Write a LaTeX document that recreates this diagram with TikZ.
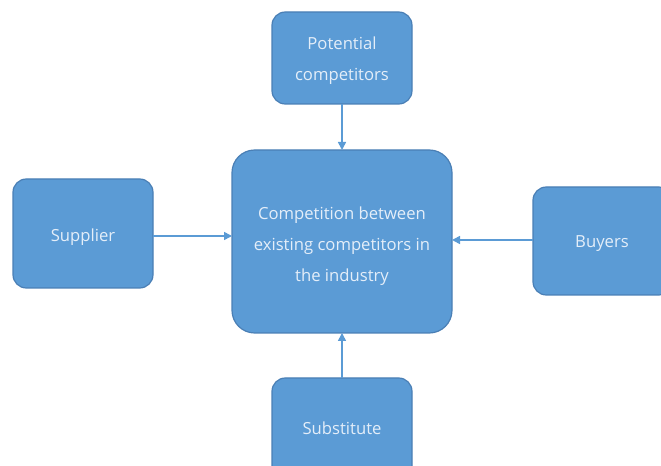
\documentclass[tikz,border=0pt]{standalone}
\usepackage{fontspec}
\setmainfont{Open Sans}
\usetikzlibrary{arrows.meta}
\definecolor{boxfill}{HTML}{5B9BD5}
\definecolor{boxline}{HTML}{4A7FB5}
\definecolor{boxtext}{HTML}{E4EEF9}
\begin{document}
\begin{tikzpicture}[x=0.75pt,y=-0.75pt,
  force/.style={draw=boxline, line width=0.9pt, fill=boxfill, rounded corners=10pt},
  label/.style={text=boxtext, font=\fontsize{12.5}{23.25}\selectfont, align=center},
  link/.style={draw=boxfill, line width=1.2pt, -{Triangle[length=6pt,width=6pt]}}]
\useasboundingbox (0,0) rectangle (661,466);
\clip (0,0) rectangle (661,466);
% boxes
\draw[force] (272,12) rectangle (412,104);
\draw[force] (13,179) rectangle (153,288);
\draw[force] (533,187) rectangle (672,295);
\draw[force] (272,378) rectangle (412,480);
\draw[force, rounded corners=17pt] (232,150) rectangle (452,333);
% labels
\node[label] (pot) at (342,61) {Potential\\competitors};
\node[label] (sup) at (83,237) {Supplier};
\node[label] (buy) at (602,244) {Buyers};
\node[label] (sub) at (342,428) {Substitute};
\node[label] (mid) at (342,246) {Competition between\\existing competitors in\\the industry};
\coordinate (potS) at (342,104);
\coordinate (midN) at (342,150);
\coordinate (supE) at (153,236);
\coordinate (midW) at (232,236);
\coordinate (buyW) at (533,240);
\coordinate (midE) at (452,240);
\coordinate (subN) at (342,378);
\coordinate (midS) at (342,333);
% connectors
\draw[link] (potS) -- (midN);
\draw[link] (supE) -- (midW);
\draw[link] (buyW) -- (midE);
\draw[link] (subN) -- (midS);
\end{tikzpicture}
\end{document}
